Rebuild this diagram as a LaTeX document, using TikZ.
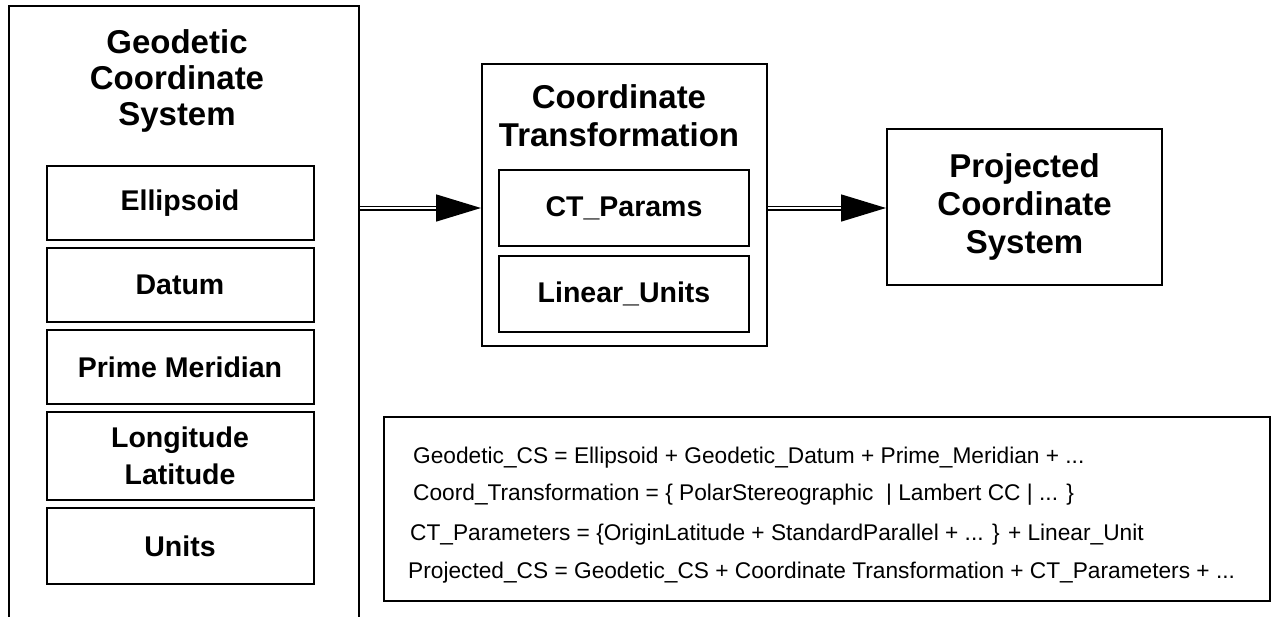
\documentclass[tikz,border=0pt]{standalone}
\usepackage{fontspec}
\setmainfont{Liberation Sans}
\usetikzlibrary{arrows.meta}

\begin{document}
\begin{tikzpicture}[x=1pt,y=-1pt,
    frame/.style={draw,rectangle,line width=2pt,inner sep=0pt},
    inbox/.style={draw,rectangle,line width=2pt,minimum width=267pt,inner sep=0pt,align=center,font=\fontsize{28.5}{37}\selectfont\bfseries},
    title/.style={align=center,inner sep=0pt,font=\fontsize{33}{38}\selectfont\bfseries},
    eq/.style={anchor=base west,inner sep=0pt,font=\fontsize{22.7}{27}\selectfont},
    flow/.style={double,double distance=2pt,line width=1.5pt,-{Triangle[length=45pt,width=27pt]}}]
            \useasboundingbox (0,0) rectangle (1272,616);
            % geodetic side
            \node[frame,minimum width=350pt,minimum height=620pt] (gcs) at (184,316) {};
            \node[title,font=\fontsize{33}{36}\selectfont\bfseries] (gcstitle) at (177,81) {Geodetic\\Coordinate\\System};
            \node[inbox,minimum height=74pt] (ell) at (180,203) {Ellipsoid};
            \node[inbox,minimum height=74pt] (dat) at (180,285) {Datum};
            \node[inbox,minimum height=74pt] (pm) at (180,367) {Prime Meridian};
            \node[inbox,minimum height=88pt] (lonlat) at (180,456) {Longitude\\Latitude};
            \node[inbox,minimum height=76pt] (uni) at (180,546) {Units};
            % transformation
            \node[frame,minimum width=285pt,minimum height=282pt] (ct) at (624.5,205) {};
            \node[title] (cttitle) at (619,116) {Coordinate\\Transformation};
            \node[inbox,minimum width=250pt,minimum height=76pt] (ctp) at (624,208) {CT\_Params};
            \node[inbox,minimum width=250pt,minimum height=76pt] (lin) at (624,294) {Linear\_Units};
            % projected
            \node[frame,title,draw,line width=2pt,minimum width=275pt,minimum height=156pt] (pcs) at (1024.5,207) {Projected\\Coordinate\\System};
            % definitions
            \node[frame,minimum width=886pt,minimum height=184pt] (defs) at (827,509) {};
            \node[eq] (eq1) at (413,463) {Geodetic\_CS = Ellipsoid + Geodetic\_Datum + Prime\_Meridian + ...};
            \node[eq] (eq2) at (413,500) {Coord\_Transformation = \{ PolarStereographic~ | Lambert CC | ... \}};
            \node[eq] (eq3) at (410,540) {CT\_Parameters = \{OriginLatitude + StandardParallel + ... \} + Linear\_Unit};
            \node[eq] (eq4) at (408,578) {Projected\_CS = Geodetic\_CS + Coordinate Transformation + CT\_Parameters + ...};
            \draw[flow] (gcs.east |- ctp.west) -- (ct.west |- ctp.west);
            \draw[flow] (ct.east |- ctp.west) -- (pcs.west |- ctp.west);
        \end{tikzpicture}
\end{document}
